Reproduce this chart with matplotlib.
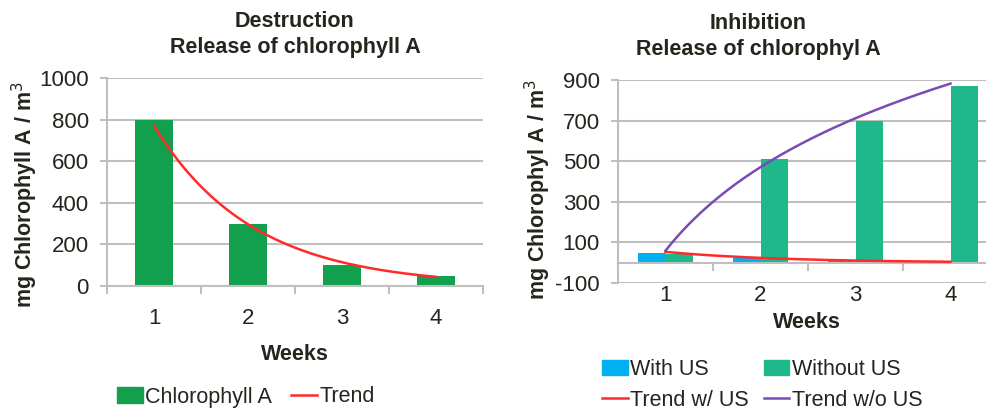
import numpy as np
import matplotlib
matplotlib.use("Agg")
import matplotlib.pyplot as plt
from matplotlib.patches import Patch
from matplotlib.lines import Line2D

plt.rcParams['font.family'] = ['Liberation Sans', 'DejaVu Sans']
plt.rcParams['axes.unicode_minus'] = False

# data
weeks = [1, 2, 3, 4]
week_labels = ["1", "2", "3", "4"]
chl_destruction = [800, 300, 100, 48]
with_us = [48, 25, 13, 4]
without_us = [42, 510, 700, 872]

txt = '#23261c'
grid_c = '#bfbfbf'
green_l = '#12a04e'
blue = '#00b0f0'
green_r = '#1fb88a'
red = '#ff2a2a'
purple = '#7b4bb5'
fs = 15.5

fig = plt.figure(figsize=(9.86, 4.09), dpi=100)
x = np.array(weeks)
xs = np.linspace(1, 4, 200)


def style_axes(ax, ymin, ymax, step):
    ax.set_xlim(0.5, 4.5)
    ax.set_ylim(ymin, ymax)
    ax.set_yticks(np.arange(ymin, ymax + 1, step))
    ax.yaxis.grid(True, color=grid_c, lw=1.5)
    ax.set_axisbelow(True)
    for s in ['top', 'right']:
        ax.spines[s].set_visible(False)
    ax.spines['left'].set_color(grid_c)
    ax.spines['left'].set_linewidth(1.5)
    ax.spines['bottom'].set_color(grid_c)
    ax.spines['bottom'].set_linewidth(1.5)
    ax.tick_params(axis='y', colors=grid_c, labelcolor=txt, labelsize=16,
                   length=5, width=1.5, pad=8)
    ax.set_xticks(weeks)
    ax.set_xticklabels(week_labels)
    ax.set_xticks([0.5, 1.5, 2.5, 3.5, 4.5], minor=True)
    ax.tick_params(axis='x', which='major', length=0, labelsize=16,
                   labelcolor=txt, pad=16)
    ax.tick_params(axis='x', which='minor', length=6, width=1.5, color=grid_c)


# ---- left: destruction ----
ax1 = fig.add_axes([107 / 986, 1 - 286 / 409, 376 / 986, 208 / 409])
style_axes(ax1, 0, 1000, 200)
ax1.bar(x, chl_destruction, width=0.4, color=green_l, zorder=2)
b, a = np.polyfit(x, np.log(chl_destruction), 1)
ax1.plot(xs, np.exp(a + b * xs), color=red, lw=1.8, zorder=3)
ax1.set_title("Destruction\nRelease of chlorophyll A", fontsize=fs, fontweight='bold',
              color=txt, pad=18, linespacing=1.3)
ax1.set_xlabel("Weeks", fontsize=fs, fontweight='bold', color=txt, labelpad=11)
fig.text(25 / 986, 1 - 195 / 409, "mg Chlorophyll A / m$^3$", fontsize=fs,
         fontweight='bold', color=txt, rotation=90, ha='center', va='center')
fig.legend(handles=[Patch(color=green_l, label="Chlorophyll A"),
                    Line2D([], [], color=red, lw=1.8, label="Trend")],
           loc='center', bbox_to_anchor=(246 / 986, 1 - 397 / 409), ncol=2,
           frameon=False, fontsize=fs, handlelength=1.2, handletextpad=0.1,
           columnspacing=0.9, labelcolor=txt)

# ---- right: inhibition ----
ax2 = fig.add_axes([618 / 986, 1 - 283 / 409, 380 / 986, 203 / 409])
style_axes(ax2, -100, 900, 200)
ax2.spines['bottom'].set_position(('data', 0))
w = 0.29
ax2.bar(x - w / 2, with_us, width=w, color=blue, zorder=2)
ax2.bar(x + w / 2, without_us, width=w, color=green_r, zorder=2)
b2, a2 = np.polyfit(x, np.log(with_us), 1)
ax2.plot(xs, np.exp(a2 + b2 * xs), color=red, lw=1.8, zorder=3)
b3, a3 = np.polyfit(np.log(x), without_us, 1)
ax2.plot(xs, a3 + b3 * np.log(xs), color=purple, lw=1.8, zorder=3)
ax2.set_title("Inhibition\nRelease of chlorophyl A", fontsize=fs, fontweight='bold',
              color=txt, pad=18, linespacing=1.3, x=(758 - 618) / 380)
fig.text(538 / 986, 1 - 190 / 409, "mg Chlorophyl A / m$^3$", fontsize=fs,
         fontweight='bold', color=txt, rotation=90, ha='center', va='center')
fig.text(807 / 986, 1 - 323 / 409, "Weeks", fontsize=fs, fontweight='bold',
         color=txt, ha='center', va='center')
fig.legend(handles=[Patch(color=blue, label="With US"),
                    Line2D([], [], color=red, lw=1.8, label="Trend w/ US"),
                    Patch(color=green_r, label="Without US"),
                    Line2D([], [], color=purple, lw=1.8, label="Trend w/o US")],
           loc='center', bbox_to_anchor=(762 / 986, 1 - 385 / 409), ncol=2,
           frameon=False, fontsize=fs, handlelength=1.2, handletextpad=0.1,
           columnspacing=0.7, labelspacing=0.45, labelcolor=txt)

fig.savefig("out.png", dpi=100)
